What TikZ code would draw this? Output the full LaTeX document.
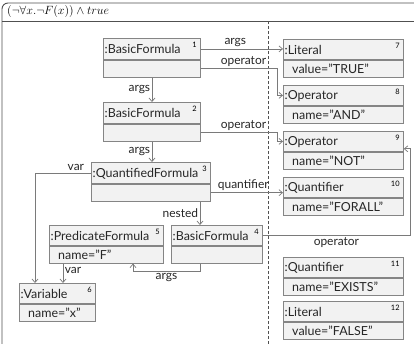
\documentclass[tikz,border=0pt]{standalone}
\usepackage{fontspec}
\setsansfont{Lato}
\usetikzlibrary{arrows.meta,calc}
\definecolor{boxfill}{HTML}{F2F2F2}
\definecolor{boxline}{HTML}{858585}
\definecolor{conncol}{HTML}{7A7A7A}
\definecolor{framecol}{HTML}{505050}
\tikzset{
  box/.style={draw=boxline, fill=boxfill, line width=0.8bp, anchor=north west, inner sep=0pt},
  txt/.style={anchor=west, inner sep=0pt, font=\sffamily\fontsize{12.5}{14}\selectfont, text=black!85},
  numlbl/.style={anchor=north east, inner sep=0pt, font=\sffamily\fontsize{7.5}{8}\selectfont},
  conn/.style={draw=conncol, line width=0.7bp, -{Straight Barb[length=3.5bp,width=6bp]}},
  lbl/.style={inner sep=1.5bp, font=\sffamily\fontsize{12}{14}\selectfont, text=black!85},
}
% name, x, y, width, header height, compartment height, title, number, attribute
\newcommand\objbox[9]{%
  \node[box, minimum width=#4bp, minimum height=#5bp] (#1) at (#2,#3) {};
  \node[txt] (#1t) at ($(#1.west)+(1.5,0.5)$) {#7};
  \node[numlbl] (#1n) at ($(#1.north east)+(-4,3.5)$) {#8};
  \node[box, minimum width=#4bp, minimum height=#6bp] (#1a) at (#1.south west) {};
  \node[txt] (#1at) at ($(#1a.west)+(9,0.5)$) {#9};
}
\begin{document}
\begin{tikzpicture}[x=1bp,y=-1bp]
\useasboundingbox (0,0) rectangle (414,344);
% frame
\draw[framecol, line width=0.9bp, rounded corners=6bp] (2,3) rectangle (422,352);
\draw[framecol, line width=0.9bp] (2,21) -- (422,21);
\node[anchor=west, inner sep=0pt, font=\fontsize{13}{14}\selectfont] (title) at (7,12) {$(\neg\forall x.\neg F(x))\wedge true$};
\draw[framecol, line width=0.8bp, dash pattern=on 3bp off 2bp] (268,21) -- (268,344);
% left objects
\objbox{n1}{103}{38}{97}{21}{17}{:BasicFormula}{1}{}
\objbox{n2}{103}{102}{97}{21}{17}{:BasicFormula}{2}{}
\objbox{n3}{91}{162}{119}{21}{17}{:QuantifiedFormula}{3}{}
\objbox{n5}{49}{225}{114}{20}{17}{:PredicateFormula}{5}{name="F"}
\objbox{n4}{171}{225}{91}{20}{17}{:BasicFormula}{4}{}
\objbox{n6}{19}{283}{76}{20}{17}{:Variable}{6}{name="x"}
% right objects
\objbox{o7}{283}{39}{120}{20}{17}{:Literal}{7}{value="TRUE"}
\objbox{o8}{283}{85}{120}{20}{17}{:Operator}{8}{name="AND"}
\objbox{o9}{283}{131}{120}{20}{17}{:Operator}{9}{name="NOT"}
\objbox{o10}{283}{177}{120}{20}{17}{:Quantifier}{10}{name="FORALL"}
\objbox{o11}{283}{257}{120}{20}{17}{:Quantifier}{11}{name="EXISTS"}
\objbox{o12}{283}{301}{120}{20}{17}{:Literal}{12}{value="FALSE"}
% helper coordinates
\coordinate (c152) at (152,0);
\coordinate (c277) at (277,0);
\coordinate (c35) at (35,0);
\coordinate (c200) at (200,0);
\coordinate (c133) at (133,0);
\coordinate (c63) at (63,0);
\coordinate (c410) at (410,0);
% connectors
\draw[conn] (n1.east) -- node[lbl, above, pos=0.42] {args} (n1.east -| o7.west);
\draw[conn] (n1a.east) -- node[lbl, above, pos=0.56] {operator} (c277 |- n1a.east) |- (o8.west);
\draw[conn] (c152 |- n1a.south) -- node[lbl, left] {args} (c152 |- n2.north);
\draw[conn] (n2a.east) -- node[lbl, above, pos=0.56] {operator} (c277 |- n2a.east) |- (o9.west);
\draw[conn] (c152 |- n2a.south) -- node[lbl, left] {args} (c152 |- n3.north);
\draw[conn] (n3a.east) -- node[lbl, above, pos=0.45] {quantifier} (n3a.east -| o10.west);
\draw[conn] (n3.west) -- node[lbl, above, pos=0.27] {var} (c35 |- n3.west) -- (c35 |- n6.north);
\draw[conn] (c200 |- n3a.south) -- node[lbl, left] {nested} (c200 |- n4.north);
\draw[conn] (n4.east) -- node[lbl, below, pos=0.5] {operator} (c410 |- n4.east) |- ($(o9.south east)+(0,-3)$);
\draw[conn] (c200 |- n4a.south) -- ++(0,8) coordinate (k1) -- node[lbl, below] {args} (c133 |- k1) -- (c133 |- n5a.south);
\draw[conn] (c63 |- n5a.south) -- node[lbl, right, pos=0.35] {var} (c63 |- n6.north);
\end{tikzpicture}
\end{document}
